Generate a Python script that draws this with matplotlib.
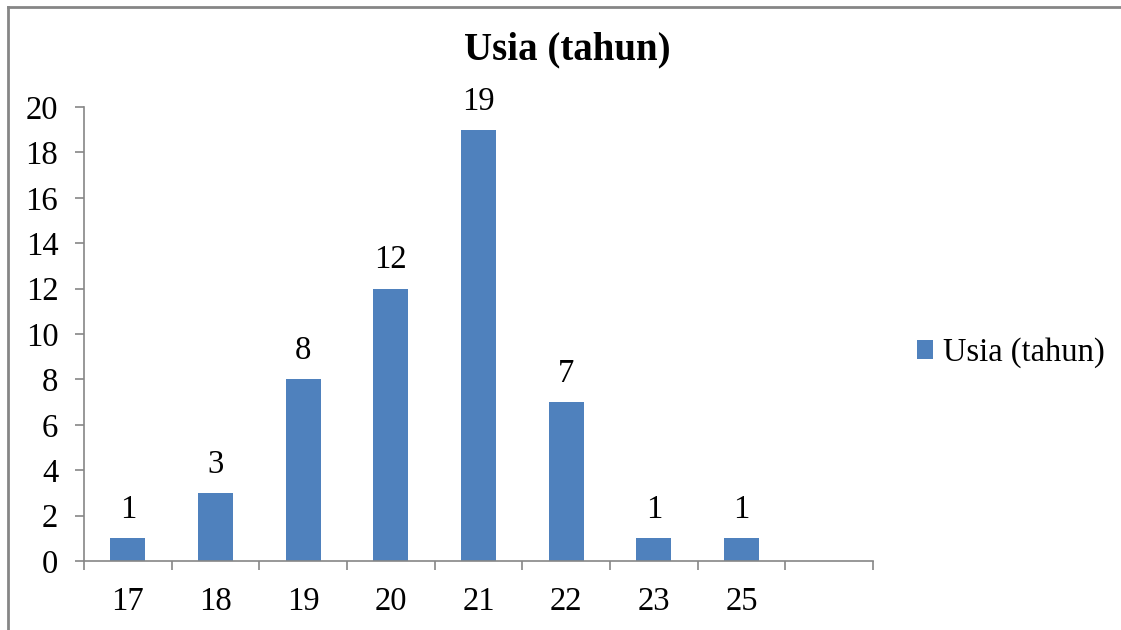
import matplotlib
matplotlib.use("Agg")
import matplotlib.pyplot as plt
from matplotlib.lines import Line2D
from matplotlib.patches import Patch

# Age distribution of respondents
ages = ["17", "18", "19", "20", "21", "22", "23", "25"]
counts = [1, 3, 8, 12, 19, 7, 1, 1]
series_name = "Usia (tahun)"

BAR_COLOR = "#4F81BD"
AXIS_COLOR = "#868686"
FS = 23.5

plt.rcParams["font.family"] = ["Liberation Serif", "DejaVu Serif"]

fig = plt.figure(figsize=(11.21, 6.30), dpi=100)
ax = fig.add_axes([84 / 1121, 1 - 561 / 630, (873 - 84) / 1121, (561 - 107) / 630])

x = list(range(len(ages)))
bars = ax.bar(x, counts, width=0.4, color=BAR_COLOR, zorder=2)

# value labels on top of each bar
for xi, v in zip(x, counts):
    ax.annotate(str(v), (xi, v), xytext=(0, 9.5), textcoords="offset points",
                ha="center", va="bottom", fontsize=FS)

# one spare category slot on the right, as in the source chart
ax.set_xlim(-0.5, len(ages) + 0.5)
ax.set_ylim(0, 20)
ax.set_yticks(range(0, 21, 2))
ax.set_xticks(x)
ax.set_xticklabels(ages)
ax.set_xticks([i - 0.5 for i in range(len(ages) + 2)], minor=True)

ax.tick_params(axis="y", length=6.5, width=1.2, color=AXIS_COLOR, pad=12, labelsize=FS)
ax.tick_params(axis="x", which="major", length=0, pad=18, labelsize=FS)
ax.tick_params(axis="x", which="minor", length=6.5, width=1.2, color=AXIS_COLOR)

for side in ["top", "right"]:
    ax.spines[side].set_visible(False)
for side in ["left", "bottom"]:
    ax.spines[side].set_color(AXIS_COLOR)
    ax.spines[side].set_linewidth(1.2)

fig.text(567 / 1121, 1 - 50 / 630, series_name, ha="center", va="center",
         fontsize=28, fontweight="bold")

fig.legend(handles=[Patch(facecolor=BAR_COLOR, label=series_name)],
           loc="center left", bbox_to_anchor=(917 / 1121, 1 - 353 / 630),
           frameon=False, fontsize=FS, borderpad=0, borderaxespad=0,
           handlelength=0.49, handleheight=0.49, handletextpad=0.3)

# outer chart frame (top and left edges visible)
fig.add_artist(Line2D([8 / 1121, 1.0], [1 - 7 / 630] * 2, color=AXIS_COLOR, lw=2))
fig.add_artist(Line2D([8 / 1121] * 2, [0.0, 1 - 7 / 630], color=AXIS_COLOR, lw=2))

fig.savefig("out.png", dpi=100)
